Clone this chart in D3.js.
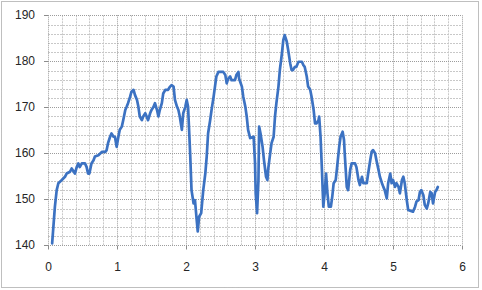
<!DOCTYPE html>
<html>
<head>
<meta charset="utf-8">
<script src="https://cdn.jsdelivr.net/npm/d3@7/dist/d3.min.js"></script>
<style>
  html, body { margin: 0; padding: 0; background: #fff; }
  svg { display: block; }
</style>
</head>
<body>
<script>
// Distance (x) values
const xs = [0.06,0.10,0.126,0.15,0.20,0.246,0.27,0.32,0.343,0.39,0.416,0.44,0.46,0.49,0.536,0.56,0.58,0.60,0.63,0.66,0.68,0.73,0.78,0.83,0.85,0.87,0.90,0.92,0.95,0.97,0.995,1.02,1.04,1.07,1.09,1.12,1.14,1.16,1.19,1.21,1.24,1.26,1.29,1.31,1.33,1.36,1.38,1.41,1.43,1.45,1.48,1.50,1.53,1.55,1.58,1.60,1.62,1.65,1.67,1.70,1.74,1.77,1.79,1.82,1.84,1.87,1.89,1.91,1.94,1.96,1.99,2.01,2.03,2.06,2.08,2.11,2.13,2.155,2.17,2.19,2.22,2.25,2.28,2.30,2.32,2.35,2.37,2.40,2.42,2.44,2.47,2.54,2.57,2.59,2.61,2.64,2.66,2.71,2.73,2.76,2.77,2.81,2.83,2.86,2.88,2.90,2.93,2.98,3.00,3.01,3.03,3.05,3.06,3.08,3.11,3.13,3.16,3.18,3.19,3.22,3.24,3.27,3.29,3.31,3.34,3.36,3.39,3.41,3.43,3.46,3.48,3.51,3.53,3.55,3.58,3.60,3.63,3.68,3.70,3.72,3.75,3.77,3.80,3.82,3.85,3.87,3.89,3.92,3.93,3.95,3.97,3.99,4.01,4.03,4.05,4.07,4.10,4.12,4.14,4.17,4.19,4.22,4.24,4.27,4.29,4.30,4.33,4.35,4.38,4.40,4.45,4.47,4.50,4.52,4.55,4.57,4.62,4.64,4.67,4.69,4.71,4.74,4.76,4.79,4.81,4.84,4.86,4.88,4.91,4.93,4.96,4.98,5.00,5.03,5.05,5.08,5.10,5.13,5.15,5.17,5.20,5.22,5.29,5.32,5.34,5.37,5.39,5.41,5.44,5.46,5.49,5.51,5.54,5.56,5.58,5.61,5.63,5.65];
// Heart rate (y) values
const ys = [140.4,148.4,152,153.5,154.2,154.9,155.6,156,156.7,155.6,157,157.8,157,157.8,157.8,157,155.6,155.6,157.8,158.5,159.3,159.6,160.3,160.3,160.7,162.2,163.6,164.3,163.6,163.6,161.4,163.6,165.1,165.8,167.2,169.4,170.1,170.9,172.3,173.4,173.8,172.7,171.6,170.1,168,167.2,168,168.7,168,167.2,168.7,169.4,170.1,170.9,169.4,168,169.4,170.9,173,173.8,173.8,174.5,174.8,174.5,171.6,170.1,169.4,168,165.1,168.7,170.1,171.6,170.1,160,152,149.1,149.8,145.5,143,146.2,147,152,155.6,159.3,164.3,167.2,169.4,172.3,174.5,176.7,177.7,177.7,177,175.2,176.2,176.7,175.9,175.9,177,177.7,176.2,174.5,172.3,170.1,168,165.1,163.3,163.6,158,151.3,147,154.2,165.8,164.3,161.4,158.5,154.9,154.2,156.4,160,162.2,163.6,168,170.9,174.5,178.1,181.7,184.6,185.7,184.3,182.5,179.6,178.1,178.1,178.8,178.8,179.9,179.9,179.2,178.8,176.7,174.5,173.8,172.3,169.4,166.5,166.5,167.2,168,163.6,156.4,148.4,151.3,155.6,151.3,148.4,148.4,150.6,153.5,154.2,157,161.4,163.6,164.7,162.9,160,152.7,152,156.4,157.8,157.8,157,154.2,153.1,154.9,153.5,153.5,155.6,158.5,160.3,160.7,160,158.5,156.4,154.9,153.5,152.7,152,150.2,153.5,155.6,153.5,154.2,152.7,153.5,152.7,151.3,154.2,154.9,153.5,149.8,147.7,147.3,148.4,149.5,149.8,151.6,152,150.9,148.8,148,149.1,151.6,151.3,149.1,151.6,152,152.7];
const xTickValues = [0,1,2,3,4,5,6];
const yTickValues = [140,150,160,170,180,190];
const xDomain = [0, 6];
const yDomain = [140, 190];

const W = 482, H = 290;
const L = 48, R = 462, T = 15.3, B = 245.3;

const svg = d3.select("body").append("svg").attr("width", W).attr("height", H);

// outer chart border
svg.append("rect").attr("x", 1.5).attr("y", 1.5).attr("width", 477).attr("height", 286)
  .attr("fill", "#fff").attr("stroke", "#7f7f7f").attr("stroke-width", 1).attr("stroke-dasharray", "1,1");

const x = d3.scaleLinear().domain(xDomain).range([L, R]);
const y = d3.scaleLinear().domain(yDomain).range([B, T]);

const g = svg.append("g");

// minor gridlines
const xMinor = d3.range(0, 6.0001, 0.2).map(v => +v.toFixed(1)).filter(v => !xTickValues.includes(v));
const yMinor = d3.range(140, 190.001, 2).filter(v => !yTickValues.includes(v));
g.selectAll(".xm").data(xMinor).join("line")
  .attr("x1", d => Math.round(x(d)) + 0.5).attr("x2", d => Math.round(x(d)) + 0.5)
  .attr("y1", T).attr("y2", B)
  .attr("stroke", "#c8c8c8").attr("stroke-width", 1).attr("stroke-dasharray", "2,1");
g.selectAll(".ym").data(yMinor).join("line")
  .attr("y1", d => Math.round(y(d)) + 0.5).attr("y2", d => Math.round(y(d)) + 0.5)
  .attr("x1", L).attr("x2", R)
  .attr("stroke", "#c8c8c8").attr("stroke-width", 1).attr("stroke-dasharray", "2,1");

// major gridlines
g.selectAll(".xM").data(xTickValues).join("line")
  .attr("x1", d => Math.round(x(d)) + 0.5).attr("x2", d => Math.round(x(d)) + 0.5)
  .attr("y1", T).attr("y2", B)
  .attr("stroke", "#9c9c9c").attr("stroke-width", 1).attr("stroke-dasharray", "1,1");
g.selectAll(".yM").data(yTickValues).join("line")
  .attr("y1", d => Math.round(y(d)) + 0.5).attr("y2", d => Math.round(y(d)) + 0.5)
  .attr("x1", L).attr("x2", R)
  .attr("stroke", "#9c9c9c").attr("stroke-width", 1).attr("stroke-dasharray", "1,1");

// axes
const xAxis = d3.axisBottom(x).tickValues(xTickValues).tickSize(4).tickPadding(13).tickFormat(d3.format("d"));
const yAxis = d3.axisLeft(y).tickValues(yTickValues).tickSize(4).tickPadding(9).tickFormat(d3.format("d"));

const gx = svg.append("g").attr("transform", `translate(0,${Math.round(B)+0.5})`).call(xAxis);
const gy = svg.append("g").attr("transform", `translate(${L},0)`).call(yAxis);
[gx, gy].forEach(a => {
  a.select(".domain").remove();
  a.selectAll(".tick line").attr("stroke", "#8c8c8c");
  a.selectAll(".tick text").attr("fill", "#262626")
    .style("font-family", "'Liberation Sans', Arial, sans-serif").style("font-size", "12px");
});
gy.selectAll(".tick").attr("transform", d => `translate(0,${Math.round(y(d))+0.5})`);
gx.selectAll(".tick").attr("transform", d => `translate(${Math.round(x(d))+0.5},0)`);

// data line
const pts = xs.map((v, i) => [v, ys[i]]);
svg.append("path").datum(pts)
  .attr("fill", "none").attr("stroke", "#3c72c2").attr("stroke-width", 2.7)
  .attr("stroke-linejoin", "round").attr("stroke-linecap", "round")
  .attr("d", d3.line().x(d => x(d[0])).y(d => y(d[1])));
</script>
</body>
</html>
